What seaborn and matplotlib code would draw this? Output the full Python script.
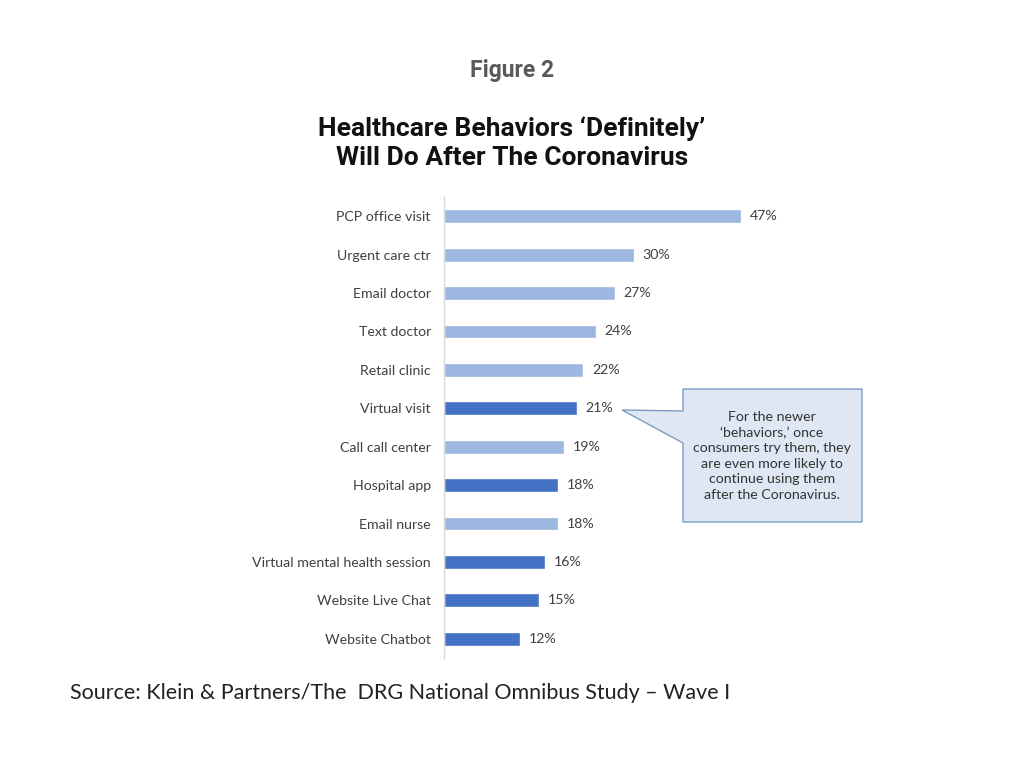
import matplotlib
matplotlib.use("Agg")
import matplotlib.pyplot as plt
from matplotlib.patches import Polygon
import seaborn as sns
import pandas as pd

sns.set_theme(style="white")
plt.rcParams['font.family'] = ['Lato', 'DejaVu Sans']

behaviors = ["PCP office visit", "Urgent care ctr", "Email doctor", "Text doctor",
             "Retail clinic", "Virtual visit", "Call call center", "Hospital app",
             "Email nurse", "Virtual mental health session", "Website Live Chat",
             "Website Chatbot"]
pct = [47, 30, 27, 24, 22, 21, 19, 18, 18, 16, 15, 12]
newer = [False, False, False, False, False, True, False, True, False, True, True, True]

LIGHT = "#9DB8E0"
DARK = "#4472C4"
colors = [DARK if n else LIGHT for n in newer]

df = pd.DataFrame({"behavior": behaviors, "pct": pct})

fig = plt.figure(figsize=(10.24, 7.59), dpi=100)
ax = fig.add_axes([444 / 1024, 1 - 658 / 759, (823 - 444) / 1024, (658 - 197) / 759])

sns.barplot(data=df, x="pct", y="behavior", hue="behavior", palette=colors,
            legend=False, orient="h", width=0.36, ax=ax, saturation=1)

ax.set_xlim(0, 60)
ax.set_ylim(len(behaviors) - 0.5, -0.5)
ax.set_xlabel("")
ax.set_ylabel("")
ax.set_xticks([])
ax.tick_params(axis="y", length=0, pad=9.5, labelsize=10.2, labelcolor="#404040")
for s in ["top", "right", "bottom"]:
    ax.spines[s].set_visible(False)
ax.spines["left"].set_color("#D9D9D9")
ax.spines["left"].set_linewidth(1)

for i, v in enumerate(pct):
    ax.annotate(f"{v}%", (v, i), xytext=(6.5, 0), textcoords="offset points",
                va="center", ha="left", fontsize=10.2, color="#404040")

fig.text(512 / 1024, 1 - 71 / 759, "Figure 2", ha="center", va="center",
         fontsize=16.5, fontweight="bold", color="#595959", family=["Roboto", "DejaVu Sans"])
fig.text(512 / 1024, 1 - 143 / 759,
         "Healthcare Behaviors \u2018Definitely\u2019\nWill Do After The Coronavirus",
         ha="center", va="center", fontsize=19, fontweight="bold", color="#111111",
         linespacing=1.25, family=["Roboto", "DejaVu Sans"])

# callout box with pointer
W, H = 1024, 759
pts = [(683, 389), (862, 389), (862, 522), (683, 522), (683, 443), (622, 410), (683, 411)]
poly = Polygon([(x / W, 1 - y / H) for x, y in pts], closed=True, transform=fig.transFigure,
               facecolor="#DEE7F3", edgecolor="#7F9CC2", linewidth=1)
fig.add_artist(poly)
fig.text(772 / W, 1 - 456 / H,
         "For the newer\n\u2018behaviors,\u2019 once\nconsumers try them, they\n"
         "are even more likely to\ncontinue using them\nafter the Coronavirus.",
         ha="center", va="center", fontsize=10.2, color="#333333", linespacing=1.35)

fig.text(70 / W, 1 - 693 / H,
         "Source: Klein & Partners/The  DRG National Omnibus Study \u2013 Wave I",
         ha="left", va="center", fontsize=15.5, color="#222222")

fig.savefig("out.png", dpi=100, facecolor="white")
